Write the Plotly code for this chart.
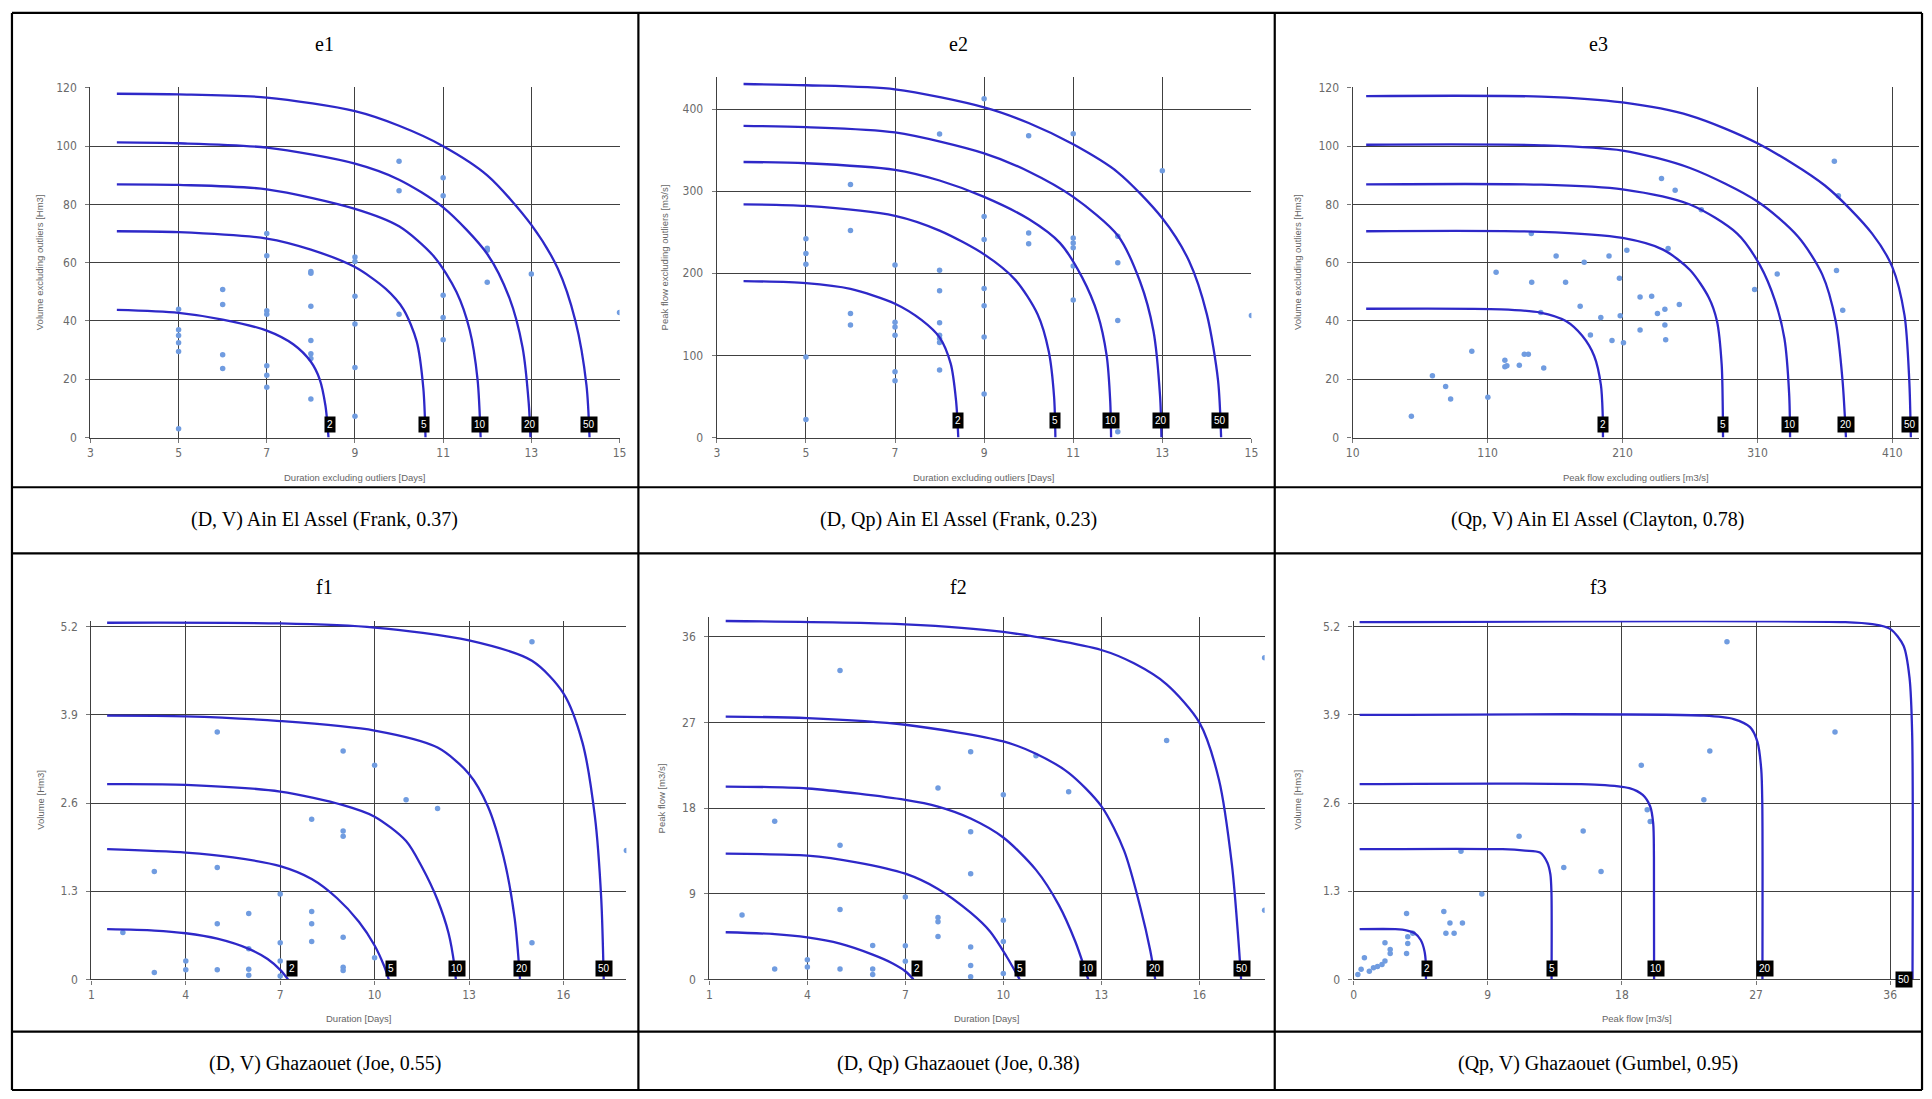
import plotly.graph_objects as go

W, H = 1932, 1099

# ------------------------------------------------------------------ data
RETURN_PERIODS = ["2", "5", "10", "20", "50"]
PANEL_TITLES = ["e1", "e2", "e3", "f1", "f2", "f3"]
CAPTIONS = [
    "(D, V) Ain El Assel (Frank, 0.37)",
    "(D, Qp) Ain El Assel (Frank, 0.23)",
    "(Qp, V) Ain El Assel (Clayton, 0.78)",
    "(D, V) Ghazaouet (Joe, 0.55)",
    "(D, Qp) Ghazaouet (Joe, 0.38)",
    "(Qp, V) Ghazaouet (Gumbel, 0.95)",
]
X_TITLES = [
    "Duration excluding outliers [Days]",
    "Duration excluding outliers [Days]",
    "Peak flow excluding outliers [m3/s]",
    "Duration [Days]",
    "Duration [Days]",
    "Peak flow [m3/s]",
]
Y_TITLES = [
    "Volume excluding outliers [Hm3]",
    "Peak flow excluding outliers [m3/s]",
    "Volume excluding outliers [Hm3]",
    "Volume [Hm3]",
    "Peak flow [m3/s]",
    "Volume [Hm3]",
]
X_TICKS = [
    [3, 5, 7, 9, 11, 13, 15],
    [3, 5, 7, 9, 11, 13, 15],
    [10, 110, 210, 310, 410],
    [1, 4, 7, 10, 13, 16],
    [1, 4, 7, 10, 13, 16],
    [0, 9, 18, 27, 36],
]
Y_TICKS = [
    [0, 20, 40, 60, 80, 100, 120],
    [0, 100, 200, 300, 400],
    [0, 20, 40, 60, 80, 100, 120],
    [0, 1.3, 2.6, 3.9, 5.2],
    [0, 9, 18, 27, 36],
    [0, 1.3, 2.6, 3.9, 5.2],
]
X_RANGES = [[3, 15], [3, 15], [10, 430], [1, 18], [1, 18], [0, 38]]
Y_RANGES = [[0, 120.2], [0, 439.2], [0, 120.2], [0, 5.29], [0, 38.07], [0, 5.29]]

# ---- e1 : (D, V) Ain El Assel
E1_PTS_X = [5, 5, 5, 5, 5, 5, 6, 6, 6, 6, 7, 7, 7, 7, 7, 7, 7, 8, 8, 8, 8, 8, 8, 8,
            9, 9, 9, 9, 9, 9, 10, 10, 10, 11, 11, 11, 11, 11, 12, 12, 12, 13, 15]
E1_PTS_Y = [3, 29.5, 32.5, 35, 37, 44, 50.8, 45.7, 28.4, 23.7, 70, 62.4, 43.5, 42.3, 24.6, 21.4, 17.3,
            57, 56.4, 45.1, 33.3, 28.8, 27.1, 13.2, 62, 60.4, 48.5, 39, 24, 7.3, 94.8, 84.7, 42.3,
            89.2, 83, 48.8, 41.2, 33.6, 65, 64.3, 53.3, 56.1, 42.9]
E1_CURVES_X = [
    [3.6, 5, 6, 7, 7.6, 8.0, 8.2, 8.33, 8.4],
    [3.6, 5, 7, 8, 9, 9.7, 10.1, 10.4, 10.55, 10.6],
    [3.6, 5, 7, 9, 10, 10.8, 11.3, 11.6, 11.78, 11.85],
    [3.6, 5, 7, 9, 10, 11, 12, 12.5, 12.8, 12.94, 12.98],
    [3.6, 5, 7, 9, 10, 11, 12, 13, 13.6, 14.0, 14.25, 14.32],
]
E1_CURVES_Y = [
    [43.8, 42.8, 40.5, 36.7, 32, 26, 20, 11, 0],
    [70.8, 70.5, 68.3, 64.5, 58.5, 51, 44, 33, 17, 0],
    [86.9, 86.7, 85.2, 78.5, 72.5, 62, 50, 37, 20, 0],
    [101.3, 101, 99.5, 94, 88.5, 79, 63, 48, 31, 12, 0],
    [118, 117.8, 116.7, 112, 107, 100, 90, 73, 58, 40, 18, 0],
]
E1_LABEL_X = [8.43, 10.57, 11.84, 12.97, 14.3]
E1_LABEL_Y = [4.5, 4.5, 4.5, 4.5, 4.5]

# ---- e2 : (D, Qp) Ain El Assel
E2_PTS_X = [5, 5, 5, 5, 5, 6, 6, 6, 6, 7, 7, 7, 7, 7, 7, 8, 8, 8, 8, 8, 8, 8, 8,
            9, 9, 9, 9, 9, 9, 9, 10, 10, 10, 11, 11, 11, 11, 11, 11, 12, 12, 12, 12, 13, 15]
E2_PTS_Y = [242, 224, 211, 98, 22, 308, 252, 151, 137, 210, 140.5, 134.5, 124.5, 80, 69,
            369.5, 203.6, 178.7, 139.8, 124.5, 120.5, 115.7, 82.3,
            412.4, 269, 241, 181.5, 160.6, 122.5, 53, 367.5, 249, 236,
            370, 243, 237, 231, 209, 167.5, 245, 212.9, 142.6, 7, 325, 148.6]
E2_CURVES_X = [
    [3.6, 5, 6, 7, 7.6, 8.0, 8.25, 8.37, 8.42],
    [3.6, 5, 7, 8, 9, 9.7, 10.2, 10.45, 10.57, 10.6],
    [3.6, 5, 7, 8, 9, 10, 10.7, 11.2, 11.55, 11.75, 11.83, 11.85],
    [3.6, 5, 7, 9, 10, 11, 12, 12.5, 12.8, 12.95, 12.98],
    [3.6, 5, 7, 9, 10, 11, 12, 13, 13.6, 14.0, 14.25, 14.32],
]
E2_CURVES_Y = [
    [190.5, 188, 181, 163, 143, 122, 90, 45, 0],
    [284, 282, 270, 252, 223, 192, 150, 105, 50, 0],
    [335.5, 334, 326, 313, 293, 266, 237, 195, 150, 100, 45, 0],
    [379.5, 378, 371.5, 346, 324, 293, 246, 190, 130, 50, 0],
    [430.5, 429, 424, 402, 383, 357, 323, 267, 215, 150, 70, 0],
]
E2_LABEL_X = [8.42, 10.58, 11.84, 12.97, 14.3]
E2_LABEL_Y = [21, 21, 21, 21, 21]

# ---- e3 : (Qp, V) Ain El Assel
E3_PTS_X = [53.5, 69.1, 78.9, 82.6, 98.3, 110.2, 116.3, 122.8, 122.8, 124.3, 133.5, 137.2, 140.2,
            142.4, 142.7, 149.4, 151.6, 160.8, 167.8, 178.6, 181.6, 186.2, 193.9, 200, 202.2,
            207.7, 208.3, 210.7, 213.2, 223, 223, 231.6, 235.9, 238.9, 241.4, 241.4, 242,
            243.8, 249, 252.1, 268.4, 307.9, 324.7, 367, 368.6, 373.2, 370]
E3_PTS_Y = [7.3, 21.2, 17.5, 13.2, 29.6, 13.8, 56.7, 26.5, 24.3, 24.6, 24.8, 28.6, 28.6,
            70, 53.3, 42.9, 23.9, 62.3, 53.3, 45.1, 60.2, 35.2, 41.2, 62.3, 33.3,
            54.7, 41.8, 32.5, 64.3, 48.2, 36.9, 48.5, 42.6, 88.9, 44, 38.6, 33.6,
            64.9, 84.9, 45.7, 78.2, 50.8, 56.1, 94.8, 57.3, 43.7, 83]
E3_CURVES_X = [
    [20, 120, 149, 168, 180, 189, 194, 195.3, 195.5],
    [20, 150, 210, 240, 260, 274, 280, 283.5, 284.3, 284.5],
    [20, 150, 210, 260, 295, 312, 323, 330, 333.5, 334.2],
    [20, 150, 210, 260, 310, 340, 358, 368, 373, 375.6],
    [20, 150, 210, 260, 310, 360, 395, 410, 419, 422.5, 423.7],
]
E3_CURVES_Y = [
    [44.2, 44, 42.9, 40, 35, 28, 18, 8, 0],
    [70.8, 70.6, 68.5, 64.5, 57.5, 48, 40, 25, 10, 0],
    [86.9, 86.8, 85.2, 80, 70, 59, 47, 34, 15, 0],
    [100.5, 100.3, 98.5, 92.5, 81, 69, 56, 40, 20, 0],
    [117.2, 117, 115, 110.5, 101, 86.5, 70, 58.5, 42, 20, 0],
]
E3_LABEL_X = [195.4, 284.3, 334.2, 375.6, 423.0]
E3_LABEL_Y = [4.5, 4.5, 4.5, 4.5, 4.5]

# ---- f1 : (D, V) Ghazaouet
F1_PTS_X = [2, 3, 3, 4, 4, 5, 5, 5, 5, 6, 6, 6, 6, 7, 7, 7, 7, 8, 8, 8, 8,
            9, 9, 9, 9, 9, 9, 10, 10, 11, 12, 15, 15, 18]
F1_PTS_Y = [0.69, 0.1, 1.59, 0.27, 0.14, 3.65, 1.65, 0.82, 0.14, 0.97, 0.45, 0.15, 0.06,
            1.26, 0.54, 0.27, 0.05, 2.36, 1.0, 0.82, 0.56, 3.37, 2.19, 2.11, 0.62, 0.18, 0.13,
            3.16, 0.32, 2.65, 2.52, 4.98, 0.54, 1.9]
F1_CURVES_X = [
    [1.5, 3, 4, 5, 6, 6.6, 7, 7.25],
    [1.5, 4, 5.5, 7, 8, 8.8, 9.5, 10, 10.3, 10.45],
    [1.5, 4, 7, 9, 10, 11, 11.5, 12.0, 12.35, 12.54, 12.58],
    [1.5, 4, 7, 10, 12, 13, 13.6, 14.1, 14.45, 14.62],
    [1.5, 7, 10, 13, 15, 16, 16.6, 17.0, 17.2, 17.28],
]
F1_CURVES_Y = [
    [0.74, 0.72, 0.68, 0.6, 0.45, 0.3, 0.14, 0],
    [1.92, 1.87, 1.8, 1.67, 1.48, 1.2, 0.85, 0.5, 0.2, 0],
    [2.88, 2.87, 2.77, 2.57, 2.4, 2.04, 1.66, 1.17, 0.68, 0.19, 0],
    [3.89, 3.88, 3.81, 3.67, 3.42, 3.03, 2.55, 1.8, 0.9, 0],
    [5.26, 5.25, 5.19, 5.0, 4.7, 4.22, 3.5, 2.4, 1.2, 0],
]
F1_LABEL_X = [7.37, 10.52, 12.61, 14.67, 17.3]
F1_LABEL_Y = [0.16, 0.16, 0.16, 0.16, 0.16]

# ---- f2 : (D, Qp) Ghazaouet
F2_PTS_X = [2, 3, 3, 4, 4, 5, 5, 5, 5, 6, 6, 6, 7, 7, 7, 8, 8, 8, 8,
            9, 9, 9, 9, 9, 9, 10, 10, 10, 10, 11, 12, 15, 18, 18]
F2_PTS_Y = [6.75, 16.6, 1.1, 2.07, 1.31, 32.45, 14.1, 7.33, 1.1, 3.56, 1.1, 0.52,
            8.65, 3.53, 1.9, 20.1, 6.5, 6.05, 4.5, 23.9, 15.5, 11.1, 3.4, 1.45, 0.28,
            19.4, 6.2, 3.98, 0.62, 23.5, 19.7, 25.1, 33.8, 7.27]
F2_CURVES_X = [
    [1.5, 3, 4, 5, 6, 6.6, 7, 7.25],
    [1.5, 4, 5.5, 7, 8, 9, 9.6, 10.1, 10.5],
    [1.5, 4, 7, 8, 9, 10, 11, 11.7, 12.2, 12.6],
    [1.5, 4, 7, 10, 11, 12, 13, 13.7, 14.2, 14.5, 14.65],
    [1.5, 7, 10, 13, 14, 15, 16, 16.6, 17.0, 17.2, 17.28],
]
F2_CURVES_Y = [
    [4.95, 4.75, 4.4, 3.75, 2.6, 1.7, 0.85, 0],
    [13.2, 13.0, 12.3, 11.1, 9.5, 7.0, 5.0, 2.4, 0],
    [20.25, 20.05, 18.85, 18.15, 16.9, 14.9, 11.5, 7.8, 4, 0],
    [27.6, 27.45, 26.75, 25, 23.7, 21.7, 18.2, 13.5, 7.5, 3, 0],
    [37.65, 37.3, 36.5, 34.6, 33.2, 31.0, 27.0, 21, 12, 4, 0],
]
F2_LABEL_X = [7.37, 10.5, 12.6, 14.65, 17.3]
F2_LABEL_Y = [1.1, 1.1, 1.1, 1.1, 1.1]

# ---- f3 : (Qp, V) Ghazaouet
F3_PTS_X = [0.28, 0.5, 0.72, 1.05, 1.33, 1.6, 1.9, 2.1, 2.1, 2.45, 2.45, 3.55, 3.55, 3.63, 3.63,
            3.97, 6.05, 6.19, 6.46, 6.74, 7.3, 7.2, 8.6, 11.1, 14.1, 15.4, 16.6, 19.3, 19.7,
            19.9, 23.5, 23.9, 25.05, 32.3]
F3_PTS_Y = [0.07, 0.15, 0.32, 0.12, 0.17, 0.19, 0.22, 0.27, 0.54, 0.44, 0.38, 0.97, 0.38, 0.53, 0.63,
            0.68, 1.0, 0.68, 0.83, 0.68, 0.83, 1.89, 1.26, 2.11, 1.65, 2.19, 1.59, 3.16, 2.5,
            2.33, 2.65, 3.37, 4.98, 3.65]
F3_CURVES_X = [
    [0.4, 2.8, 3.6, 4.1, 4.5, 4.75, 4.84, 4.85],
    [0.4, 10, 11.5, 12.5, 13.0, 13.2, 13.27, 13.28],
    [0.4, 16.5, 18.5, 19.4, 19.9, 20.1, 20.15, 20.16],
    [0.4, 23.5, 25.5, 26.6, 27.1, 27.35, 27.42, 27.43],
    [0.4, 33, 34.8, 36, 36.9, 37.3, 37.48, 37.5],
]
F3_CURVES_Y = [
    [0.74, 0.74, 0.72, 0.68, 0.58, 0.42, 0.25, 0],
    [1.92, 1.92, 1.9, 1.87, 1.72, 1.55, 1.3, 0],
    [2.88, 2.87, 2.82, 2.72, 2.55, 2.3, 1.8, 0],
    [3.9, 3.89, 3.84, 3.72, 3.5, 3.1, 2.6, 0],
    [5.27, 5.27, 5.24, 5.17, 4.92, 4.45, 3.6, 0],
]
F3_LABEL_X = [4.9, 13.3, 20.3, 27.6, 36.9]
F3_LABEL_Y = [0.16, 0.16, 0.16, 0.16, 0.0]

PTS_X = [E1_PTS_X, E2_PTS_X, E3_PTS_X, F1_PTS_X, F2_PTS_X, F3_PTS_X]
PTS_Y = [E1_PTS_Y, E2_PTS_Y, E3_PTS_Y, F1_PTS_Y, F2_PTS_Y, F3_PTS_Y]
CURVES_X = [E1_CURVES_X, E2_CURVES_X, E3_CURVES_X, F1_CURVES_X, F2_CURVES_X, F3_CURVES_X]
CURVES_Y = [E1_CURVES_Y, E2_CURVES_Y, E3_CURVES_Y, F1_CURVES_Y, F2_CURVES_Y, F3_CURVES_Y]
LABELS_X = [E1_LABEL_X, E2_LABEL_X, E3_LABEL_X, F1_LABEL_X, F2_LABEL_X, F3_LABEL_X]
LABELS_Y = [E1_LABEL_Y, E2_LABEL_Y, E3_LABEL_Y, F1_LABEL_Y, F2_LABEL_Y, F3_LABEL_Y]

# ------------------------------------------------------------------ layout (pixels)
PANEL_BOX = [  # left, right, top, bottom of each plot area
    (84, 617, 82.3, 436.7),
    (715, 1253.5, 71.7, 436.7),
    (1355.5, 1926.3, 82.3, 436.7),
    (85, 623.9, 622.1, 985),
    (707.5, 1266.8, 618.3, 985),
    (1356.5, 1926.9, 622.1, 985),
]
COL_CENTERS = [320, 958, 1603]
TITLE_Y = [38, 588]
CAPTION_Y = [520, 1070]
XTITLE_Y = [477, 1025]
YTITLE_X = [33, 662, 1300, 33, 659, 1299]

TICK_FONT = dict(family="Liberation Sans Narrow, DejaVu Sans Condensed, Liberation Sans, Arial",
                 size=12, color="#6a6a6a")
SMALL_FONT = dict(family="Liberation Sans, Arial", size=9.5, color="#666666")
SERIF = dict(family="Liberation Serif, Times New Roman, serif", size=20, color="black")
CURVE_COLOR = "rgb(46,40,200)"
POINT_COLOR = "rgb(112,156,224)"
GRID = "#404040"


def px(x):
    return x / W


def py(y):
    return 1 - y / H


def text_note(x, y, text, font, angle=0):
    return dict(x=px(x), y=py(y), xref="paper", yref="paper", text=text, showarrow=False,
                xanchor="center", yanchor="middle", textangle=angle, font=font)


fig = go.Figure()
annotations = []
shapes = []
layout = {}

for i in range(6):
    n = "" if i == 0 else str(i + 1)
    xa, ya = "x" + n, "y" + n
    l, r, t, b = PANEL_BOX[i]
    common = dict(showgrid=True, gridcolor=GRID, gridwidth=1.3, zeroline=False,
                  showline=True, linecolor=GRID, linewidth=1.4,
                  ticks="outside", ticklen=4, tickcolor="#777", tickfont=TICK_FONT, fixedrange=True)
    layout["xaxis" + n] = dict(
        domain=[px(l), px(r)], range=X_RANGES[i], anchor=ya,
        tickmode="array", tickvals=X_TICKS[i], ticktext=[str(v) for v in X_TICKS[i]], **common)
    layout["yaxis" + n] = dict(
        domain=[py(b), py(t)], range=Y_RANGES[i], anchor=xa, ticklabelstandoff=6,
        tickmode="array", tickvals=Y_TICKS[i], ticktext=[str(v) for v in Y_TICKS[i]], **common)

    fig.add_trace(go.Scatter(
        x=PTS_X[i], y=PTS_Y[i], mode="markers", xaxis=xa, yaxis=ya,
        marker=dict(color=POINT_COLOR, size=5.5), showlegend=False, hoverinfo="skip"))
    for k in range(5):
        fig.add_trace(go.Scatter(
            x=CURVES_X[i][k], y=CURVES_Y[i][k], mode="lines", xaxis=xa, yaxis=ya,
            line=dict(color=CURVE_COLOR, width=2.3, shape="spline", smoothing=0.8),
            showlegend=False, hoverinfo="skip"))
        annotations.append(dict(
            x=LABELS_X[i][k], y=LABELS_Y[i][k], xref=xa, yref=ya, text=RETURN_PERIODS[k],
            showarrow=False, bgcolor="black", borderpad=2, xanchor="center", yanchor="middle",
            font=dict(family="Liberation Sans, Arial", size=10, color="white")))

    row, col = divmod(i, 3)
    annotations.append(text_note(COL_CENTERS[col], TITLE_Y[row], PANEL_TITLES[i], SERIF))
    annotations.append(text_note(COL_CENTERS[col], CAPTION_Y[row], CAPTIONS[i], SERIF))
    annotations.append(text_note((l + r) / 2, XTITLE_Y[row], X_TITLES[i], SMALL_FONT))
    annotations.append(text_note(YTITLE_X[i], (t + b) / 2, Y_TITLES[i], SMALL_FONT, angle=-90))

# table borders
BORDER = dict(color="black", width=2.2)
for x in [5, 636, 1277, 1929]:
    shapes.append(dict(type="line", xref="paper", yref="paper", x0=px(x), x1=px(x),
                       y0=py(7), y1=py(1097), line=BORDER))
for y in [7, 487, 554, 1038, 1097]:
    shapes.append(dict(type="line", xref="paper", yref="paper", x0=px(5), x1=px(1929),
                       y0=py(y), y1=py(y), line=BORDER))

fig.update_layout(
    width=W, height=H, autosize=False,
    margin=dict(l=0, r=0, t=0, b=0),
    paper_bgcolor="white", plot_bgcolor="white",
    annotations=annotations, shapes=shapes, showlegend=False,
    **layout,
)

fig.write_html("out.html", include_plotlyjs=True, config={"displayModeBar": False})
